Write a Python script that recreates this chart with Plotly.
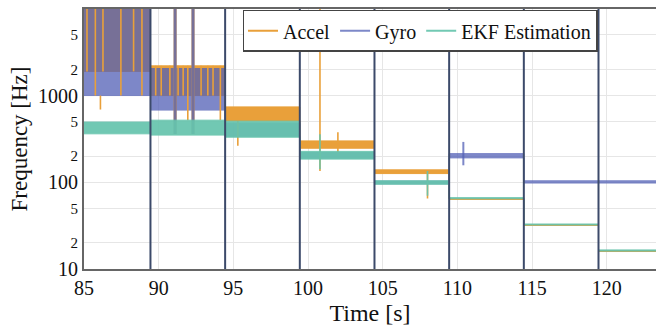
import plotly.graph_objects as go

# Phase boundaries (s) where the sampling rate is switched
SWITCH_TIMES = [89.45, 94.45, 99.45, 104.45, 109.45, 114.45, 119.45]
T_START = 85.0
T_END = 124.0

# Per-phase frequency envelopes [Hz] (low / high of the measured spread)
ACCEL_LOW = [1900, 1000, 510, 247, 126, 63.5, 31.8, 15.9]
ACCEL_HIGH = [12000, 2200, 740, 300, 139, 65.0, 32.6, 16.3]
GYRO_LOW = [1000, 680, 340, 190, 96, 191, 98, 98]
GYRO_HIGH = [12000, 2050, 480, 220, 103, 214, 104, 104]
EKF_LOW = [362, 350, 331, 185, 95, 64.5, 32.2, 16.1]
EKF_HIGH = [495, 520, 507, 227, 104, 66.5, 33.0, 16.6]

# Isolated outliers: (time, low, high)
ACCEL_SPIKES = [
    (85.20, 1900, 12000), (85.76, 1000, 12000), (86.27, 1900, 12000),
    (87.47, 1000, 12000), (88.32, 1900, 12000), (88.88, 1000, 12000),
    (86.10, 690, 1000),
    (89.80, 1000, 2200), (90.17, 1000, 2200), (90.75, 1000, 2200),
    (91.30, 1000, 2200), (91.64, 1000, 2200),
    (91.95, 520, 2200),
    (92.84, 1000, 2200), (93.29, 1000, 2200), (93.64, 1000, 2200),
    (94.13, 520, 2200),
    (95.30, 263, 510),
    (100.80, 135, 12000), (102.00, 220, 377),
    (108.00, 65, 126),
]
# Simultaneous accel + gyro bursts in the second phase
BURST_SPIKES = [(91.10, 360, 12000), (92.30, 360, 12000)]
GYRO_SPIKES = [(110.40, 157, 292)]
EKF_SPIKES = [
    (100.80, 141, 357), (108.00, 70, 135),
]

ACCEL_COLOR = "rgb(233,160,58)"
GYRO_COLOR = "rgb(82,96,182)"
EKF_COLOR = "rgb(102,196,173)"
SWITCH_COLOR = "rgb(60,74,106)"
FONT = "'Liberation Serif', 'Times New Roman', 'DejaVu Serif', serif"

bounds = [T_START] + SWITCH_TIMES + [T_END]


def envelope(low, high):
    """Step-shaped closed outline: upper edge forward, lower edge back."""
    xs, ys = [], []
    for k, hi in enumerate(high):
        xs += [bounds[k], bounds[k + 1]]
        ys += [hi, hi]
    for k in range(len(low) - 1, -1, -1):
        xs += [bounds[k + 1], bounds[k]]
        ys += [low[k], low[k]]
    xs.append(xs[0])
    ys.append(ys[0])
    return xs, ys


def spike_path(spikes):
    xs, ys = [], []
    for t, lo, hi in spikes:
        xs += [t, t, None]
        ys += [lo, hi, None]
    return xs, ys


series = {
    "Accel": (ACCEL_LOW, ACCEL_HIGH, ACCEL_COLOR, 1.0),
    "Gyro": (GYRO_LOW, GYRO_HIGH, GYRO_COLOR, 0.75),
    "EKF Estimation": (EKF_LOW, EKF_HIGH, EKF_COLOR, 0.92),
}


def band_trace(name):
    lo, hi, color, alpha = series[name]
    ex, ey = envelope(lo, hi)
    return go.Scatter(
        x=ex, y=ey, mode="lines", fill="toself", fillcolor=color,
        line=dict(color=color, width=1), opacity=alpha,
        showlegend=False, hoverinfo="skip", legendgroup=name,
    )


def spike_trace(name, spikes, width=1.6):
    _, _, color, alpha = series[name]
    sx, sy = spike_path(spikes)
    return go.Scatter(
        x=sx, y=sy, mode="lines", line=dict(color=color, width=width),
        opacity=alpha, showlegend=False, hoverinfo="skip", legendgroup=name,
    )


fig = go.Figure()
# Drawing order: accel band, gyro band, accel outliers, gyro outliers, EKF
fig.add_trace(band_trace("Accel"))
fig.add_trace(band_trace("Gyro"))
fig.add_trace(spike_trace("Accel", ACCEL_SPIKES))
fig.add_trace(spike_trace("Accel", BURST_SPIKES, width=3))
fig.add_trace(spike_trace("Gyro", BURST_SPIKES, width=3))
fig.add_trace(spike_trace("Gyro", GYRO_SPIKES, width=2))
fig.add_trace(band_trace("EKF Estimation"))
fig.add_trace(spike_trace("EKF Estimation", EKF_SPIKES))

# Legend entries
for name, (_, _, color, alpha) in series.items():
    fig.add_trace(go.Scatter(
        x=[None], y=[None], mode="lines", name=name,
        line=dict(color=color, width=2), opacity=alpha, legendgroup=name,
    ))

for t in SWITCH_TIMES:
    fig.add_shape(type="line", xref="x", yref="paper", x0=t, x1=t, y0=0, y1=1,
                  line=dict(color=SWITCH_COLOR, width=2), layer="above")

fig.update_layout(
    width=656, height=329,
    margin=dict(l=84, r=0, t=9, b=60),
    paper_bgcolor="white", plot_bgcolor="white",
    font=dict(family=FONT, size=20, color="#111"),
    legend=dict(
        orientation="h", x=0.8986, xanchor="right", y=0.997, yanchor="top",
        bgcolor="white", bordercolor="#444", borderwidth=1.5,
        font=dict(family=FONT, size=20, color="#111"),
        itemwidth=30, tracegroupgap=0,
    ),
    xaxis=dict(
        range=[85, 123.3], dtick=5, tick0=85,
        showgrid=True, gridcolor="#e6e6e6", gridwidth=1,
        showline=True, linecolor="#666", linewidth=2, mirror=True,
        ticks="", zeroline=False,
        tickfont=dict(family=FONT, size=20, color="#111"),
        title=dict(text="Time [s]", font=dict(family=FONT, size=24, color="#111"),
                   standoff=6),
    ),
    yaxis=dict(
        type="log", range=[1, 3.998], dtick="D2",
        showgrid=True, gridcolor="#e6e6e6", gridwidth=1,
        showline=True, linecolor="#666", linewidth=2, mirror=False,
        ticks="", zeroline=False,
        tickfont=dict(family=FONT, size=20, color="#111"),
        title=dict(text="Frequency [Hz]", font=dict(family=FONT, size=23, color="#111"),
                   standoff=4),
    ),
)

fig.write_html("out.html")
